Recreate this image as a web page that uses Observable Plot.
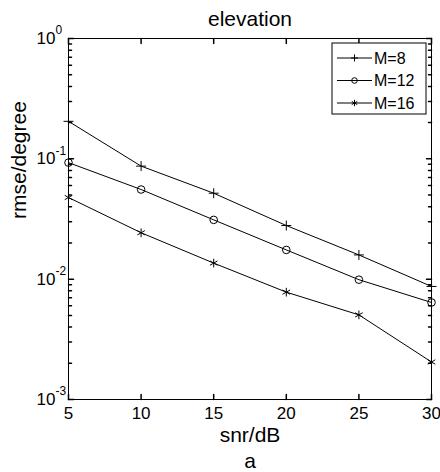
<!DOCTYPE html>
<html>
<head>
<meta charset="utf-8">
<script src="https://cdn.jsdelivr.net/npm/d3@7"></script>
<script src="https://cdn.jsdelivr.net/npm/@observablehq/plot@0.6"></script>
<style>
  html, body { margin: 0; padding: 0; background: white; }
</style>
</head>
<body>
<div id="chart"></div>
<script>
// ---- data ----
const snr = [5, 10, 15, 20, 25, 30];
const seriesNames = ["M=8", "M=12", "M=16"];
const rmseM8  = [0.205, 0.087, 0.0518, 0.0279, 0.0159, 0.0087];
const rmseM12 = [0.093, 0.0556, 0.0311, 0.0175, 0.0099, 0.0064];
const rmseM16 = [0.0477, 0.0243, 0.0136, 0.0078, 0.00505, 0.00205];
const xTicks = [5, 10, 15, 20, 25, 30];
const yMajor = [1e-3, 1e-2, 1e-1, 1];
const yExponents = ["-3", "-2", "-1", "0"];
const titleText = "elevation";
const xLabel = "snr/dB";
const yLabel = "rmse/degree";
const captionText = "a";

// ---- derived tables ----
const seriesValues = [rmseM8, rmseM12, rmseM16];
const symbols = ["plus", "circle", "asterisk"];
const radii = [3.3, 3.8, 4.1];
const rows = [];
seriesNames.forEach((name, s) => snr.forEach((x, i) => rows.push({series: name, snr: x, v: seriesValues[s][i]})));
const yMinor = [];
for (let k = -3; k <= -1; k++) for (let m = 2; m <= 9; m++) yMinor.push(m * Math.pow(10, k));
const yMajorRows = yMajor.map((v, i) => ({v, e: yExponents[i]}));

const tickShape = {draw(context, l) { context.moveTo(0, 0); context.lineTo(0, -l); }};
const font = "'Liberation Sans', Arial, sans-serif";

const W = 440, H = 472, ML = 68, MR = 9, MT = 38, MB = 73;

const marks = [
  Plot.frame({stroke: "black", strokeWidth: 1}),
  // ticks (inward, all sides)
  Plot.vector(xTicks, {x: d => d, frameAnchor: "bottom", rotate: 0, length: 5, anchor: "start", shape: tickShape, stroke: "black"}),
  Plot.vector(xTicks, {x: d => d, frameAnchor: "top", rotate: 180, length: 5, anchor: "start", shape: tickShape, stroke: "black"}),
  Plot.vector(yMajor, {y: d => d, frameAnchor: "left", rotate: 90, length: 5, anchor: "start", shape: tickShape, stroke: "black"}),
  Plot.vector(yMajor, {y: d => d, frameAnchor: "right", rotate: -90, length: 5, anchor: "start", shape: tickShape, stroke: "black"}),
  Plot.vector(yMinor, {y: d => d, frameAnchor: "left", rotate: 90, length: 3, anchor: "start", shape: tickShape, stroke: "black"}),
  Plot.vector(yMinor, {y: d => d, frameAnchor: "right", rotate: -90, length: 3, anchor: "start", shape: tickShape, stroke: "black"}),
  // tick labels
  Plot.text(xTicks, {x: d => d, text: d => String(d), frameAnchor: "bottom", dy: 19, lineAnchor: "bottom", fontSize: 17, fill: "black"}),
  Plot.text(yMajorRows, {y: "v", text: () => "10", frameAnchor: "left", dx: -13, textAnchor: "end", lineAnchor: "middle", fontSize: 17, fill: "black"}),
  Plot.text(yMajorRows, {y: "v", text: "e", frameAnchor: "left", dx: -13, dy: -8, textAnchor: "start", lineAnchor: "middle", fontSize: 12, fill: "black"}),
  // labels
  Plot.text([titleText], {text: d => d, frameAnchor: "top", dy: -13, lineAnchor: "bottom", fontSize: 21, fill: "black"}),
  Plot.text([xLabel], {text: d => d, frameAnchor: "bottom", dy: 42, lineAnchor: "bottom", fontSize: 21, fill: "black"}),
  Plot.text([captionText], {text: d => d, frameAnchor: "bottom", dy: 68, lineAnchor: "bottom", fontSize: 21, fill: "black"}),
  Plot.text([yLabel], {text: d => d, frameAnchor: "left", dx: -49, rotate: -90, lineAnchor: "middle", fontSize: 21, fill: "black"}),
  // data
  Plot.line(rows, {x: "snr", y: "v", z: "series", stroke: "black", strokeWidth: 1}),
  ...seriesNames.map((name, s) => Plot.dot(rows.filter(d => d.series === name), {x: "snr", y: "v", symbol: () => symbols[s], r: radii[s], stroke: "black", fill: "none", strokeWidth: 1}))
];

const chart = Plot.plot({
  width: W, height: H,
  marginLeft: ML, marginRight: MR, marginTop: MT, marginBottom: MB,
  x: {domain: [5, 30], axis: null},
  y: {type: "log", domain: [1e-3, 1], axis: null},
  symbol: {type: "identity"},
  style: {fontFamily: font, background: "white", color: "black"},
  marks
});

// ---- legend ----
const svg = d3.select(chart);
const boxRight = W - MR - 5, boxTop = MT + 5, boxW = 94, boxH = 71;
const lg = svg.append("g").attr("font-family", font).attr("font-size", 16).attr("text-anchor", "start");
lg.append("rect").attr("x", boxRight - boxW).attr("y", boxTop).attr("width", boxW).attr("height", boxH)
  .attr("fill", "white").attr("stroke", "black").attr("stroke-width", 1);
const legendSyms = [d3.symbolPlus, d3.symbolCircle, d3.symbolAsterisk];
const legendR = [2.4, 2.8, 3.0];
seriesNames.forEach((name, i) => {
  const cy = boxTop + 15 + i * 22.5;
  const x0 = boxRight - boxW + 5, x1 = x0 + 35;
  lg.append("line").attr("x1", x0).attr("x2", x1).attr("y1", cy).attr("y2", cy).attr("stroke", "black");
  lg.append("path").attr("d", d3.symbol(legendSyms[i], Math.PI * legendR[i] * legendR[i])())
    .attr("transform", `translate(${(x0 + x1) / 2},${cy})`).attr("fill", "none").attr("stroke", "black");
  lg.append("text").attr("x", x1 + 2).attr("y", cy).attr("dy", "0.35em").attr("fill", "black").text(name);
});

document.getElementById("chart").appendChild(chart);
</script>
</body>
</html>
